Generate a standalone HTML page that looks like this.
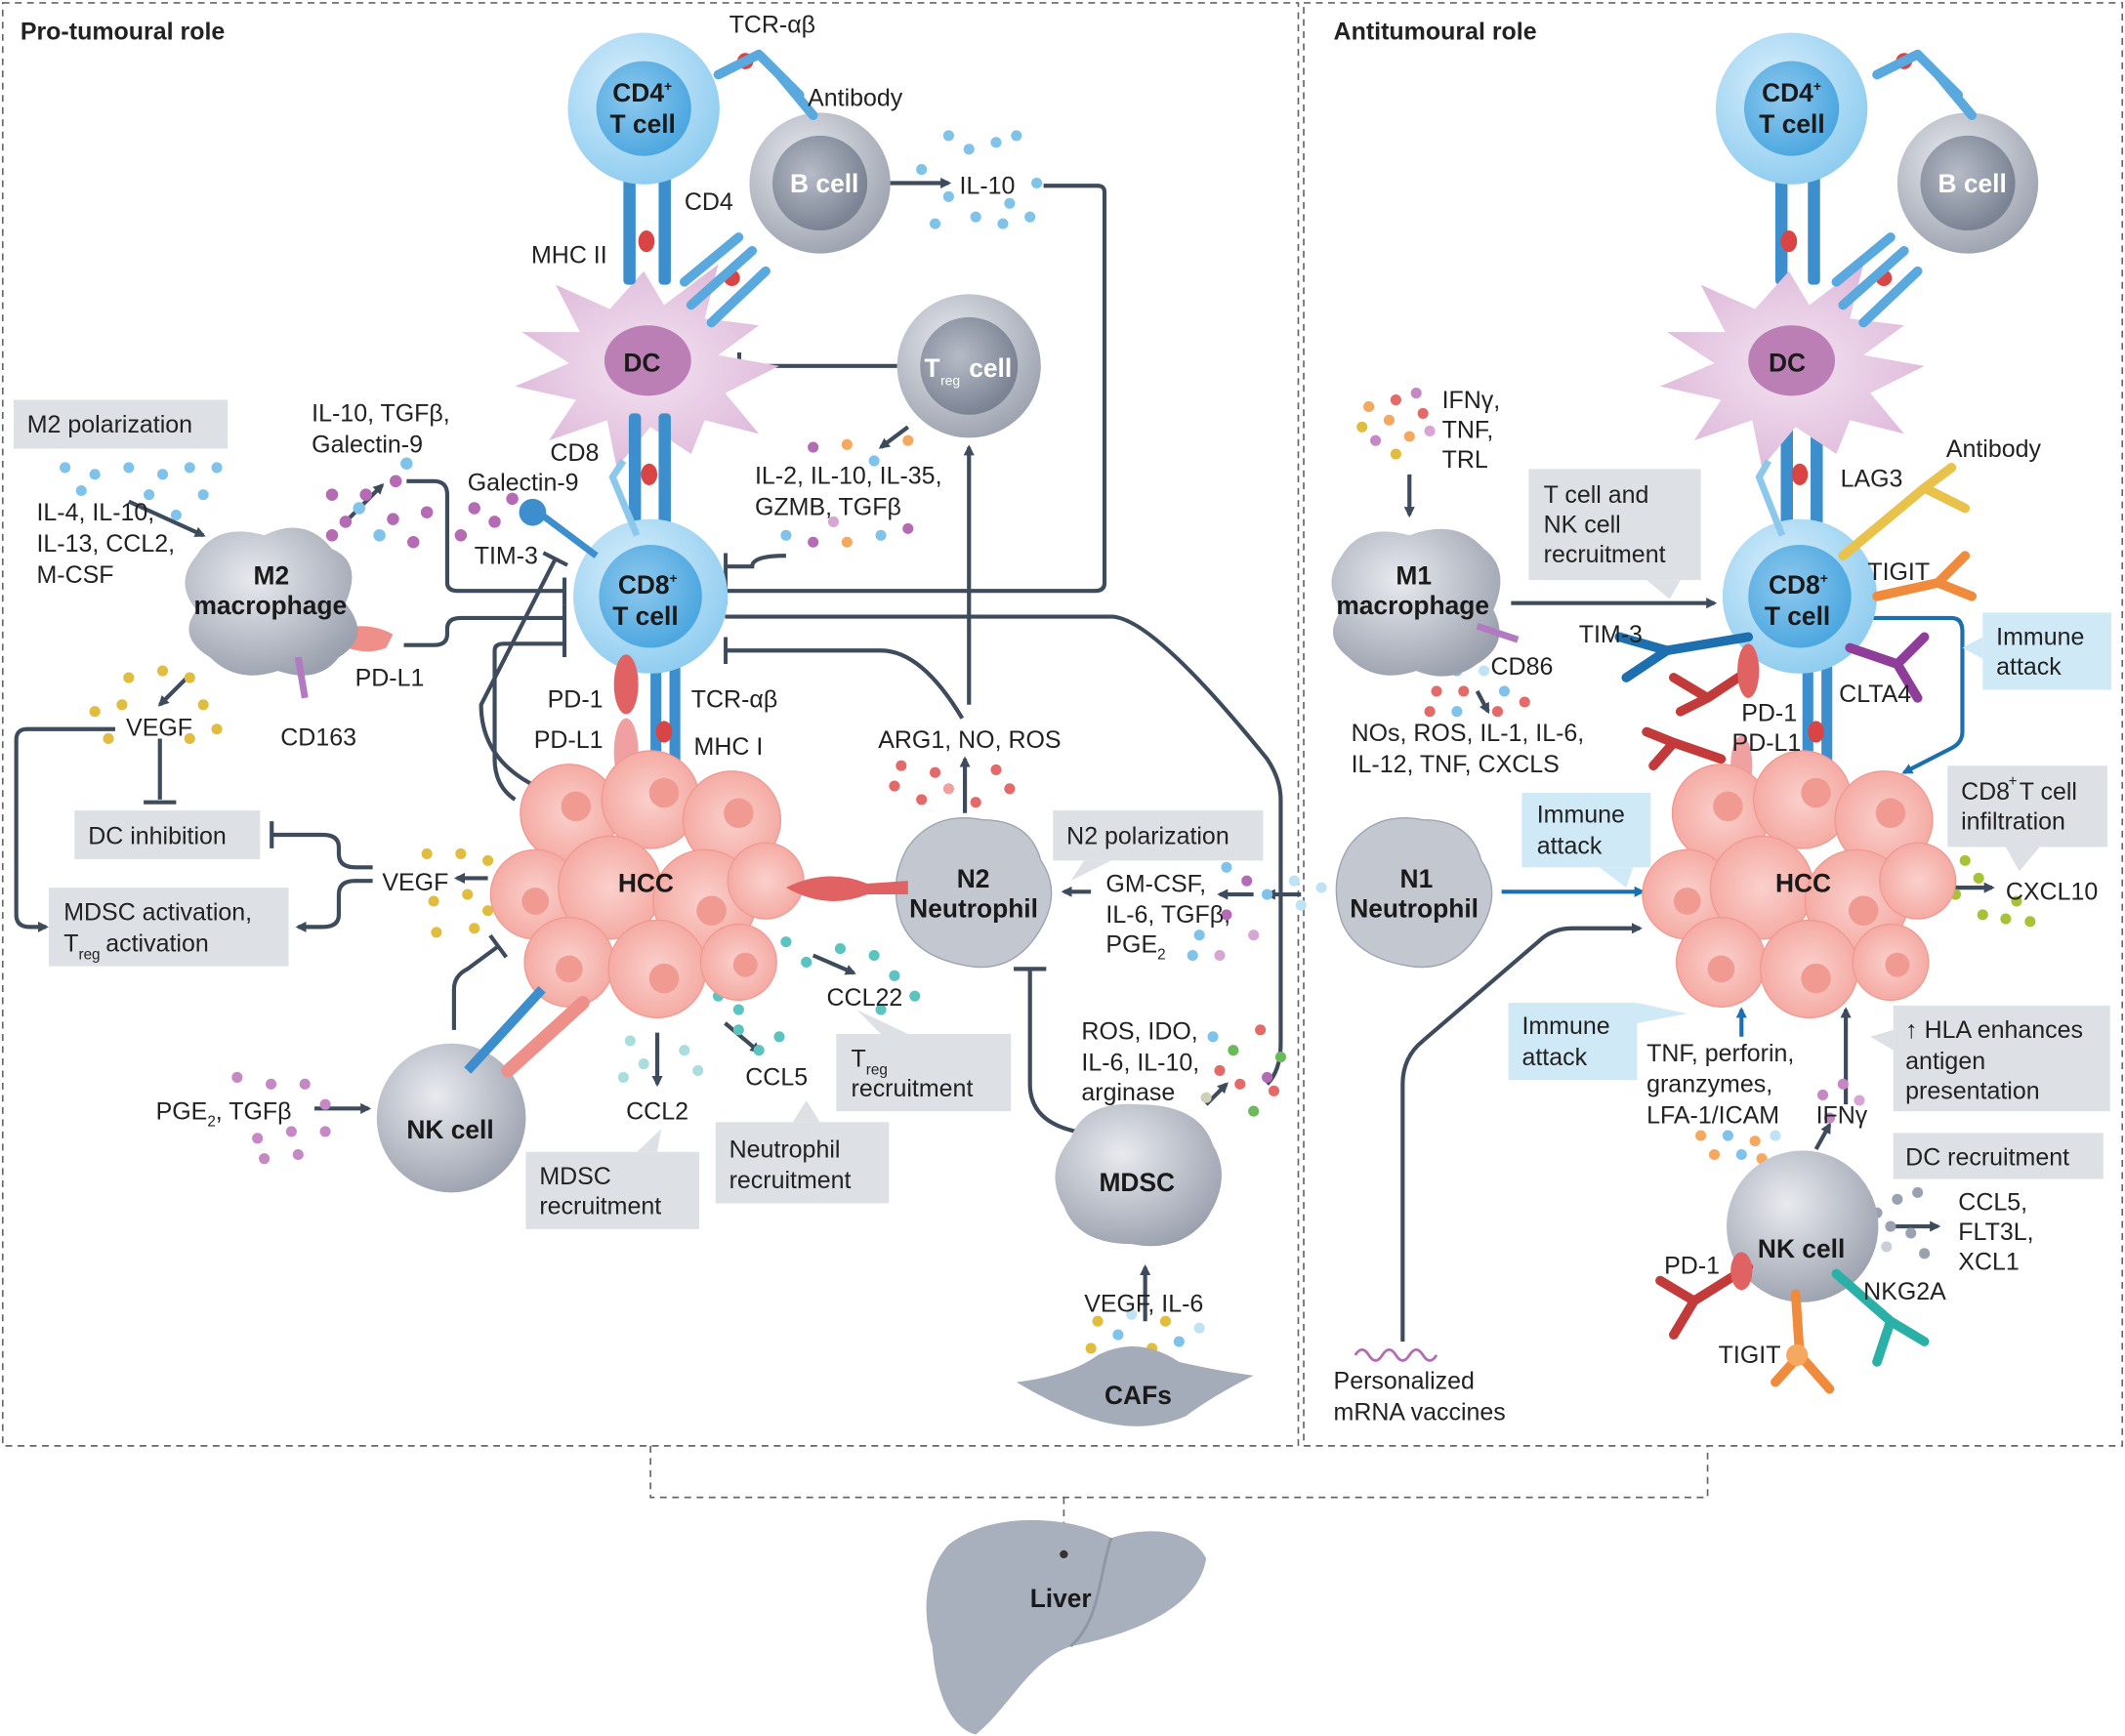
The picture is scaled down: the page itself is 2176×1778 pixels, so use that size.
<!DOCTYPE html>
<html><head><meta charset="utf-8"><style>
html,body{margin:0;padding:0;background:#fff}
svg{display:block}
text{font-family:"Liberation Sans",sans-serif;fill:#222}
.t{font-size:18px}
.b{font-weight:bold;font-size:19px;fill:#1a1a1a}
.h{font-weight:bold;font-size:18px}
.ln{fill:none;stroke:#3d4b5c;stroke-width:3}
.bl{fill:none;stroke:#1a6fb0;stroke-width:3}
.box{fill:#dde1e6}
.ib{fill:#cfe9f7}
</style></head><body>
<svg width="2176" height="1778" viewBox="0 0 1568 1281" xmlns="http://www.w3.org/2000/svg">
<defs>
<radialGradient id="tc" cx="0.4" cy="0.35" r="0.7"><stop offset="0" stop-color="#d8eefb"/><stop offset="1" stop-color="#8ccbef"/></radialGradient>
<radialGradient id="tn" cx="0.4" cy="0.4" r="0.6"><stop offset="0" stop-color="#8fc9ee"/><stop offset="1" stop-color="#4ea8e0"/></radialGradient>
<radialGradient id="gc" cx="0.4" cy="0.35" r="0.7"><stop offset="0" stop-color="#e8eaef"/><stop offset="1" stop-color="#9aa0ad"/></radialGradient>
<radialGradient id="gn" cx="0.4" cy="0.4" r="0.6"><stop offset="0" stop-color="#b6bbc6"/><stop offset="1" stop-color="#7c8494"/></radialGradient>
<radialGradient id="pk" cx="0.5" cy="0.5" r="0.6"><stop offset="0" stop-color="#fbd0cc"/><stop offset="1" stop-color="#f3a49c"/></radialGradient>
<radialGradient id="dc" cx="0.5" cy="0.5" r="0.6"><stop offset="0" stop-color="#f3e3f1"/><stop offset="1" stop-color="#dcb5d8"/></radialGradient>
<marker id="a" markerWidth="8" markerHeight="8" refX="6" refY="4" orient="auto" markerUnits="userSpaceOnUse"><path d="M0,0 L8,4 L0,8 z" fill="#3d4b5c"/></marker>
<marker id="ab" markerWidth="8" markerHeight="8" refX="6" refY="4" orient="auto" markerUnits="userSpaceOnUse"><path d="M0,0 L8,4 L0,8 z" fill="#1a6fb0"/></marker>
<marker id="t" markerWidth="4" markerHeight="20" refX="2" refY="10" orient="auto" markerUnits="userSpaceOnUse"><rect x="0" y="0" width="3" height="20" fill="#3d4b5c"/></marker>
</defs>
<rect width="1568" height="1281" fill="#fff"/>
<rect x="2" y="2" width="956" height="1065" fill="none" stroke="#666" stroke-dasharray="5,4" stroke-width="1.2"/>
<rect x="962" y="2" width="604" height="1065" fill="none" stroke="#666" stroke-dasharray="5,4" stroke-width="1.2"/>
<path d="M480,1067 V1105 H1260 V1067 M785,1105 V1145" fill="none" stroke="#666" stroke-dasharray="5,4" stroke-width="1.2"/>
<text x="15" y="29" class="h">Pro-tumoural role</text>
<text x="984" y="29" class="h">Antitumoural role</text>
<path d="M700,1140 C730,1115 790,1118 820,1135 C850,1125 880,1130 890,1150 C885,1185 840,1205 790,1215 C760,1225 745,1260 720,1280 C700,1275 690,1245 688,1215 C680,1190 682,1160 700,1140 z" fill="#a8afbd"/>
<path d="M820,1135 C810,1165 812,1195 790,1215" fill="none" stroke="#8e95a3" stroke-width="2"/>
<circle cx="785" cy="1147" r="3" fill="#333"/>
<text x="760" y="1186" class="b">Liver</text>

<g class="ln">
<path d="M655,135 H700" marker-end="url(#a)"/>
<path d="M770,137 H810 Q815,137 815,142 V430 Q815,436 808,436 H535" marker-end="url(#t)"/>
<path d="M662,270 H545" marker-end="url(#t)"/>
<path d="M715,520 V330" marker-end="url(#a)"/>
<path d="M670,315 L650,330" marker-end="url(#a)"/>
<path d="M580,410 Q555,410 555,418 H535" marker-end="url(#t)"/>
<path d="M300,355 H320 Q330,355 330,365 V430 Q330,436 338,436 H417" marker-end="url(#t)"/>
<path d="M298,476 H320 Q330,476 330,468 V464 Q330,456 340,456 H417" marker-end="url(#t)"/>
<path d="M380,590 Q365,580 365,560 V480 Q365,475 372,475 H417" marker-end="url(#t)"/>
<path d="M395,580 Q355,560 355,520 L410,412" marker-end="url(#t)"/>
<path d="M710,530 Q680,480 650,480 H535" marker-end="url(#t)"/>
<path d="M535,455 H820 Q850,455 935,560 Q945,575 945,590 V770 Q945,790 935,800" />
<path d="M712,600 V560" marker-end="url(#a)"/>
<path d="M140,498 L118,520" marker-end="url(#a)"/>
<path d="M95,370 L150,395" marker-end="url(#a)"/>
<path d="M255,385 L282,358" marker-end="url(#a)"/>
<path d="M118,545 V590 M106,592 H130"/>
<path d="M85,538 H20 Q12,538 12,546 V675 Q12,684 22,684 H34" marker-end="url(#a)"/>
<path d="M275,640 H262 Q250,640 250,630 V625 Q250,616 238,616 H200" marker-end="url(#t)"/>
<path d="M275,650 H262 Q250,650 250,660 V675 Q250,684 238,684 H220" marker-end="url(#a)"/>
<path d="M360,648 H337" marker-end="url(#a)"/>
<path d="M335,760 V730 Q335,720 345,715 L368,698" marker-end="url(#t)"/>
<path d="M232,818 H272" marker-end="url(#a)"/>
<path d="M485,762 V800" marker-end="url(#a)"/>
<path d="M535,755 L560,776" marker-end="url(#a)"/>
<path d="M600,705 L630,718" marker-end="url(#a)"/>
<path d="M805,658 H785" marker-end="url(#a)"/>
<path d="M925,660 H900" marker-end="url(#a)"/>
<path d="M960,660 H935" marker-end="url(#a)"/>
<path d="M800,836 Q760,830 760,800 V715"/>
<path d="M748,715 H772"/>
<path d="M845,975 V935" marker-end="url(#a)"/>
<path d="M890,815 L905,800" marker-end="url(#a)"/>
</g>
<g class="ln">
<path d="M1040,350 V380" marker-end="url(#a)"/>
<path d="M1115,445 H1265" marker-end="url(#a)"/>
<path d="M1090,510 L1098,525" marker-end="url(#a)"/>
<path d="M1035,990 V800 Q1035,780 1050,768 L1135,695 Q1145,685 1160,685 H1210" marker-end="url(#a)"/>
<path d="M1362,815 V745" marker-end="url(#a)"/>
<path d="M1340,848 L1350,830" marker-end="url(#a)"/>
<path d="M1440,655 H1470" marker-end="url(#a)"/>
<path d="M1398,905 H1430" marker-end="url(#a)"/>
</g>
<g class="bl">
<path d="M1108,658 H1212" marker-end="url(#ab)"/>
<path d="M1285,765 V745" marker-end="url(#ab)"/>
<path d="M1380,456 H1440 Q1448,456 1448,466 V540 Q1448,548 1440,552 L1405,570" marker-end="url(#ab)"/>
</g>

<g>
<g fill="#7fc3ea"><circle cx="700" cy="100" r="4"/><circle cx="715" cy="110" r="4"/><circle cx="735" cy="105" r="4"/><circle cx="750" cy="100" r="4"/><circle cx="680" cy="125" r="4"/><circle cx="700" cy="145" r="4"/><circle cx="720" cy="160" r="4"/><circle cx="745" cy="150" r="4"/><circle cx="765" cy="135" r="4"/><circle cx="740" cy="165" r="4"/><circle cx="690" cy="165" r="4"/><circle cx="760" cy="160" r="4"/></g>
<g fill="#7fc3ea"><circle cx="48" cy="345" r="4"/><circle cx="70" cy="350" r="4"/><circle cx="95" cy="345" r="4"/><circle cx="120" cy="350" r="4"/><circle cx="140" cy="345" r="4"/><circle cx="160" cy="345" r="4"/><circle cx="60" cy="362" r="4"/><circle cx="110" cy="365" r="4"/><circle cx="150" cy="365" r="4"/><circle cx="130" cy="380" r="4"/></g>
<g fill="#b56bb4"><circle cx="245" cy="365" r="4.5"/><circle cx="270" cy="365" r="4.5"/><circle cx="292" cy="355" r="4.5"/><circle cx="255" cy="385" r="4.5"/><circle cx="290" cy="383" r="4.5"/><circle cx="315" cy="378" r="4.5"/><circle cx="305" cy="400" r="4.5"/><circle cx="350" cy="375" r="4.5"/><circle cx="365" cy="385" r="4.5"/><circle cx="378" cy="368" r="4.5"/><circle cx="340" cy="395" r="4.5"/><circle cx="245" cy="395" r="4.5"/></g>
<g fill="#7fc3ea"><circle cx="265" cy="375" r="4.5"/><circle cx="280" cy="395" r="4.5"/><circle cx="300" cy="342" r="4.5"/></g>
<g><circle cx="600" cy="330" r="4" fill="#b56bb4"/><circle cx="625" cy="328" r="4" fill="#f5a860"/><circle cx="645" cy="340" r="4" fill="#7fc3ea"/><circle cx="670" cy="325" r="4" fill="#f5a860"/><circle cx="580" cy="395" r="4" fill="#7fc3ea"/><circle cx="600" cy="400" r="4" fill="#b56bb4"/><circle cx="625" cy="400" r="4" fill="#f5a860"/><circle cx="650" cy="395" r="4" fill="#7fc3ea"/><circle cx="670" cy="390" r="4" fill="#b56bb4"/><circle cx="615" cy="385" r="4" fill="#d7a6d4"/></g>
<g fill="#e0bd3e"><circle cx="95" cy="500" r="4"/><circle cx="120" cy="495" r="4"/><circle cx="140" cy="500" r="4"/><circle cx="70" cy="525" r="4"/><circle cx="90" cy="520" r="4"/><circle cx="150" cy="520" r="4"/><circle cx="160" cy="538" r="4"/><circle cx="80" cy="545" r="4"/><circle cx="140" cy="545" r="4"/></g>
<g fill="#e0bd3e"><circle cx="315" cy="630" r="4"/><circle cx="340" cy="630" r="4"/><circle cx="360" cy="635" r="4"/><circle cx="320" cy="665" r="4"/><circle cx="345" cy="660" r="4"/><circle cx="360" cy="672" r="4"/><circle cx="322" cy="688" r="4"/><circle cx="350" cy="685" r="4"/><circle cx="375" cy="650" r="4"/></g>
<g fill="#e46a6a"><circle cx="665" cy="565" r="4"/><circle cx="690" cy="570" r="4"/><circle cx="735" cy="568" r="4"/><circle cx="660" cy="580" r="4"/><circle cx="680" cy="590" r="4"/><circle cx="745" cy="582" r="4"/><circle cx="720" cy="592" r="4"/><circle cx="700" cy="582" r="4" fill="#f0a0a0"/></g>
<g fill="#5bc3c0"><circle cx="580" cy="695" r="4"/><circle cx="595" cy="710" r="4"/><circle cx="620" cy="700" r="4"/><circle cx="645" cy="705" r="4"/><circle cx="660" cy="720" r="4"/><circle cx="675" cy="735" r="4"/><circle cx="650" cy="745" r="4"/><circle cx="530" cy="735" r="4"/><circle cx="545" cy="745" r="4"/><circle cx="545" cy="760" r="4"/><circle cx="560" cy="775" r="4"/><circle cx="575" cy="765" r="4"/><circle cx="465" cy="768" r="4" fill="#a9dedc"/><circle cx="475" cy="785" r="4" fill="#a9dedc"/><circle cx="505" cy="775" r="4" fill="#a9dedc"/><circle cx="515" cy="790" r="4" fill="#a9dedc"/><circle cx="460" cy="795" r="4" fill="#a9dedc"/></g>
<g fill="#c688c5"><circle cx="175" cy="795" r="4"/><circle cx="200" cy="800" r="4"/><circle cx="225" cy="800" r="4"/><circle cx="240" cy="815" r="4"/><circle cx="190" cy="840" r="4"/><circle cx="215" cy="835" r="4"/><circle cx="240" cy="835" r="4"/><circle cx="195" cy="855" r="4"/><circle cx="220" cy="852" r="4"/></g>
<g><circle cx="905" cy="640" r="4" fill="#7fc3ea"/><circle cx="920" cy="650" r="4" fill="#b56bb4"/><circle cx="935" cy="660" r="4" fill="#7fc3ea"/><circle cx="905" cy="675" r="4" fill="#b56bb4"/><circle cx="925" cy="690" r="4" fill="#d7a6d4"/><circle cx="885" cy="690" r="4" fill="#7fc3ea"/><circle cx="880" cy="705" r="4" fill="#7fc3ea"/><circle cx="900" cy="705" r="4" fill="#d7a6d4"/><circle cx="955" cy="650" r="4" fill="#bfe2f5"/><circle cx="975" cy="655" r="4" fill="#bfe2f5"/><circle cx="960" cy="668" r="4" fill="#bfe2f5"/></g>
<g><circle cx="895" cy="765" r="4" fill="#7fc3ea"/><circle cx="910" cy="775" r="4" fill="#6aba5a"/><circle cx="930" cy="760" r="4" fill="#e46a6a"/><circle cx="945" cy="780" r="4" fill="#6aba5a"/><circle cx="900" cy="790" r="4" fill="#e46a6a"/><circle cx="915" cy="800" r="4" fill="#e46a6a"/><circle cx="935" cy="795" r="4" fill="#b56bb4"/><circle cx="890" cy="810" r="4" fill="#d0d0b8"/><circle cx="925" cy="820" r="4" fill="#6aba5a"/><circle cx="940" cy="805" r="4" fill="#e46a6a"/></g>
<g><circle cx="810" cy="975" r="4" fill="#e0bd3e"/><circle cx="825" cy="985" r="4" fill="#7fc3ea"/><circle cx="805" cy="995" r="4" fill="#e0bd3e"/><circle cx="835" cy="970" r="4" fill="#bfe2f5"/><circle cx="860" cy="975" r="4" fill="#e0bd3e"/><circle cx="870" cy="990" r="4" fill="#7fc3ea"/><circle cx="850" cy="995" r="4" fill="#e0bd3e"/><circle cx="885" cy="980" r="4" fill="#bfe2f5"/><circle cx="825" cy="1000" r="4" fill="#e0bd3e"/></g>
<g><circle cx="1010" cy="300" r="4" fill="#f5a860"/><circle cx="1030" cy="295" r="4" fill="#e46a6a"/><circle cx="1045" cy="290" r="4" fill="#c688c5"/><circle cx="1005" cy="315" r="4" fill="#e0bd3e"/><circle cx="1025" cy="310" r="4" fill="#f5a860"/><circle cx="1050" cy="305" r="4" fill="#e46a6a"/><circle cx="1015" cy="325" r="4" fill="#c688c5"/><circle cx="1040" cy="322" r="4" fill="#f5a860"/><circle cx="1055" cy="318" r="4" fill="#d7a6d4"/><circle cx="1030" cy="335" r="4" fill="#e0bd3e"/></g>
<g><circle cx="1075" cy="495" r="4" fill="#7fc3ea"/><circle cx="1095" cy="495" r="4" fill="#bfe2f5"/><circle cx="1060" cy="510" r="4" fill="#e46a6a"/><circle cx="1080" cy="510" r="4" fill="#e46a6a"/><circle cx="1110" cy="510" r="4" fill="#7fc3ea"/><circle cx="1055" cy="525" r="4" fill="#e46a6a"/><circle cx="1075" cy="525" r="4" fill="#7fc3ea"/><circle cx="1105" cy="525" r="4" fill="#e46a6a"/><circle cx="1125" cy="518" r="4" fill="#e46a6a"/></g>
<g fill="#a8c238"><circle cx="1437" cy="640" r="4"/><circle cx="1450" cy="635" r="4"/><circle cx="1460" cy="648" r="4"/><circle cx="1443" cy="660" r="4"/><circle cx="1463" cy="675" r="4"/><circle cx="1480" cy="678" r="4"/><circle cx="1498" cy="680" r="4"/><circle cx="1488" cy="665" r="4"/></g>
<g><circle cx="1255" cy="838" r="4" fill="#f5a860"/><circle cx="1275" cy="838" r="4" fill="#7fc3ea"/><circle cx="1295" cy="842" r="4" fill="#f5a860"/><circle cx="1265" cy="852" r="4" fill="#f5a860"/><circle cx="1285" cy="852" r="4" fill="#7fc3ea"/><circle cx="1300" cy="855" r="4" fill="#f5a860"/><circle cx="1310" cy="838" r="4" fill="#bfe2f5"/><circle cx="1345" cy="808" r="4" fill="#c688c5"/><circle cx="1360" cy="800" r="4" fill="#c688c5"/><circle cx="1372" cy="812" r="4" fill="#d7a6d4"/><circle cx="1350" cy="825" r="4" fill="#c688c5"/></g>
<g fill="#9aa2b2"><circle cx="1385" cy="895" r="4"/><circle cx="1400" cy="885" r="4"/><circle cx="1415" cy="880" r="4"/><circle cx="1395" cy="905" r="4"/><circle cx="1410" cy="910" r="4"/><circle cx="1420" cy="925" r="4"/><circle cx="1392" cy="920" r="4" fill="#c9ced8"/></g>
<path d="M1000,1000 q5,-8 10,0 t10,0 t10,0 t10,0 t10,0 t10,0" fill="none" stroke="#b56bb4" stroke-width="2"/>

<rect class="box" x="10" y="295" width="158" height="36"/><text class="t" x="20" y="319">M2 polarization</text>
<rect class="box" x="55" y="598" width="137" height="36"/><text class="t" x="65" y="623">DC inhibition</text>
<rect class="box" x="36" y="655" width="177" height="58"/><text class="t" x="47" y="679">MDSC activation,</text><text class="t" x="47" y="702">T</text><text x="58" y="708" style="font-size:11px">reg</text><text class="t" x="78" y="702">activation</text>
<rect class="box" x="388" y="850" width="128" height="57"/><text class="t" x="398" y="874">MDSC</text><text class="t" x="398" y="896">recruitment</text>
<path class="box" d="M470,850 L488,833 L485,850z"/>
<rect class="box" x="528" y="828" width="128" height="60"/><text class="t" x="538" y="854">Neutrophil</text><text class="t" x="538" y="877">recruitment</text>
<path class="box" d="M585,828 L595,812 L605,828z"/>
<rect class="box" x="617" y="763" width="129" height="57"/><text class="t" x="628" y="787">T</text><text x="639" y="793" style="font-size:11px">reg</text><text class="t" x="628" y="809">recruitment</text>
<path class="box" d="M650,763 L632,745 L670,763z"/>
<rect class="box" x="777" y="598" width="155" height="37"/><text class="t" x="787" y="623">N2 polarization</text>
<path class="box" d="M800,635 L790,650 L820,635z"/>
<rect class="box" x="1128" y="346" width="127" height="82"/><text class="t" x="1139" y="371">T cell and</text><text class="t" x="1139" y="393">NK cell</text><text class="t" x="1139" y="415">recruitment</text>
<path class="box" d="M1215,428 L1232,442 L1240,428z"/>
<rect class="box" x="1437" y="565" width="118" height="60"/><text class="t" x="1447" y="590">CD8</text><text x="1482" y="580" style="font-size:11px">+</text><text class="t" x="1490" y="590">T cell</text><text class="t" x="1447" y="612">infiltration</text>
<path class="box" d="M1480,625 L1490,643 L1505,625z"/>
<rect class="box" x="1397" y="742" width="160" height="78"/><text class="t" x="1406" y="766">↑ HLA enhances</text><text class="t" x="1406" y="789">antigen</text><text class="t" x="1406" y="811">presentation</text>
<path class="box" d="M1397,760 L1380,765 L1397,775z"/>
<rect class="box" x="1397" y="836" width="155" height="34"/><text class="t" x="1406" y="860">DC recruitment</text>
<rect class="ib" x="1463" y="452" width="95" height="57"/><text class="t" x="1473" y="476">Immune</text><text class="t" x="1473" y="498">attack</text>
<path class="ib" d="M1463,470 L1448,478 L1463,486z"/>
<rect class="ib" x="1123" y="585" width="95" height="55"/><text class="t" x="1134" y="607">Immune</text><text class="t" x="1134" y="630">attack</text>
<path class="ib" d="M1180,640 L1200,655 L1205,640z"/>
<rect class="ib" x="1113" y="740" width="95" height="57"/><text class="t" x="1123" y="763">Immune</text><text class="t" x="1123" y="786">attack</text>
<path class="ib" d="M1208,740 L1245,748 L1208,755z"/>

<path d="M475,200 L490,225 L530,195 L520,235 L560,240 L530,262 L575,270 L535,290 L560,320 L520,310 L510,335 L480,315 L455,345 L448,310 L405,325 L425,295 L380,285 L420,268 L385,245 L428,245 L410,210 L450,228 z" fill="url(#dc)"/>
<ellipse cx="478" cy="266" rx="32" ry="26" fill="#bb7fb6"/><text class="b" x="460" y="274">DC</text>
<g fill="#3c8fcc"><rect x="460" y="125" width="9" height="85" rx="3"/><rect x="486" y="125" width="9" height="85" rx="3"/><rect x="464" y="305" width="9" height="90" rx="3"/><rect x="486" y="305" width="9" height="90" rx="3"/><rect x="480" y="485" width="8" height="95" rx="3"/><rect x="494" y="485" width="8" height="95" rx="3"/>
<rect x="1310" y="125" width="9" height="85" rx="3"/><rect x="1334" y="125" width="9" height="85" rx="3"/><rect x="1314" y="305" width="9" height="90" rx="3"/><rect x="1336" y="305" width="9" height="90" rx="3"/><rect x="1330" y="485" width="8" height="95" rx="3"/><rect x="1344" y="485" width="8" height="95" rx="3"/></g>
<g fill="#d94545"><ellipse cx="477" cy="178" rx="6" ry="8"/><ellipse cx="479" cy="350" rx="6" ry="8"/><ellipse cx="490" cy="540" rx="6" ry="8"/><ellipse cx="1320" cy="178" rx="6" ry="8"/><ellipse cx="1328" cy="350" rx="6" ry="8"/><ellipse cx="1340" cy="540" rx="6" ry="8"/><circle cx="540" cy="205" r="6"/><circle cx="550" cy="45" r="6"/><circle cx="1390" cy="205" r="6"/><circle cx="1405" cy="45" r="6"/></g>
<circle cx="475" cy="80" r="56" fill="url(#tc)"/><circle cx="475" cy="80" r="35" fill="url(#tn)"/>
<text class="b" x="452" y="75">CD4<tspan font-size="10" dy="-8">+</tspan></text><text class="b" x="450" y="98">T cell</text>
<circle cx="605" cy="135" r="52" fill="url(#gc)"/><circle cx="605" cy="135" r="35" fill="url(#gn)"/><text class="b" x="583" y="142" style="fill:#fff">B cell</text>
<g stroke="#5aa9de" stroke-width="7" fill="none" stroke-linecap="round"><path d="M510,225 L555,185 M505,208 L545,175 M525,238 L565,200"/><path d="M530,55 L560,40 M560,40 L590,70 M575,55 L600,85"/></g>
<circle cx="715" cy="270" r="53" fill="url(#gc)"/><circle cx="715" cy="270" r="36" fill="url(#gn)"/><text class="b" x="682" y="278" style="fill:#fff">T</text><text x="694" y="284" style="font-size:10px;fill:#fff">reg</text><text class="b" x="715" y="278" style="fill:#fff">cell</text>
<circle cx="480" cy="440" r="57" fill="url(#tc)"/><circle cx="480" cy="440" r="38" fill="url(#tn)"/>
<text class="b" x="456" y="438">CD8<tspan font-size="10" dy="-8">+</tspan></text><text class="b" x="452" y="461">T cell</text>
<path d="M400,380 L440,410" stroke="#3c8fcc" stroke-width="5"/><circle cx="393" cy="378" r="10" fill="#3c8fcc"/>
<path d="M460,340 L452,352 L470,395" stroke="#8cc7ec" stroke-width="5" fill="none"/>
<ellipse cx="462" cy="505" rx="9" ry="22" fill="#e06262"/><ellipse cx="462" cy="555" rx="9" ry="25" fill="#f0a0a0"/>
<path d="M240,470 Q265,455 290,468 L285,478 Q265,486 240,470z" fill="#ee8f8a"/>
<path d="M145,410 Q160,385 195,395 Q225,380 245,405 Q268,415 255,445 Q275,470 250,485 Q235,505 205,495 Q175,505 155,485 Q130,470 145,450 Q128,430 145,410z" fill="url(#gc)"/>
<text class="b" x="187" y="431">M2</text><text class="b" x="143" y="453">macrophage</text>
<path d="M220,485 L225,515" stroke="#b27ac1" stroke-width="5"/>
<g fill="url(#pk)" stroke="#f19990" stroke-width="1">
<circle cx="420" cy="600" r="36"/><circle cx="480" cy="590" r="36"/><circle cx="540" cy="605" r="36"/><circle cx="395" cy="660" r="33"/><circle cx="450" cy="655" r="38"/><circle cx="520" cy="665" r="38"/><circle cx="565" cy="650" r="28"/><circle cx="420" cy="710" r="33"/><circle cx="485" cy="715" r="36"/><circle cx="545" cy="710" r="28"/></g>
<g fill="#f09a92"><circle cx="425" cy="595" r="11"/><circle cx="490" cy="585" r="11"/><circle cx="545" cy="600" r="11"/><circle cx="395" cy="665" r="10"/><circle cx="525" cy="672" r="11"/><circle cx="420" cy="715" r="10"/><circle cx="490" cy="722" r="11"/><circle cx="550" cy="712" r="9"/></g>
<text class="b" x="456" y="658">HCC</text>
<path d="M670,625 Q690,598 725,605 Q760,605 768,635 Q785,660 765,690 Q745,720 710,712 Q675,705 665,680 Q655,650 670,625z" fill="#c3c7d0" stroke="#9ea4b0"/>
<text class="b" x="706" y="655">N2</text><text class="b" x="671" y="677">Neutrophil</text>
<path d="M580,655 Q610,640 640,652 L670,650 L670,660 L640,660 Q610,672 580,655z" fill="#e06262"/>
<circle cx="333" cy="825" r="55" fill="url(#gc)"/><text class="b" x="300" y="840">NK cell</text>
<path d="M345,790 L400,730" stroke="#3c8fcc" stroke-width="7"/><path d="M375,790 L430,740" stroke="#ee8f8a" stroke-width="10" stroke-linecap="round"/>
<path d="M790,840 Q800,812 840,815 Q885,815 895,845 Q910,870 890,900 Q870,925 835,918 Q795,918 785,890 Q770,865 790,840z" fill="url(#gc)"/>
<text class="b" x="811" y="879">MDSC</text>
<path d="M750,1020 Q790,1015 810,1000 Q840,985 870,1005 Q900,1012 925,1015 Q895,1030 875,1045 Q840,1060 800,1045 Q775,1035 750,1020z" fill="#a4abb9"/>
<text class="b" x="815" y="1036">CAFs</text>

<path d="M1320,200 L1335,225 L1375,195 L1365,235 L1405,240 L1375,262 L1420,270 L1380,290 L1405,320 L1365,310 L1355,335 L1325,315 L1300,345 L1293,310 L1250,325 L1270,295 L1225,285 L1265,268 L1230,245 L1273,245 L1255,210 L1295,228 z" fill="url(#dc)"/>
<ellipse cx="1322" cy="266" rx="32" ry="26" fill="#bb7fb6"/><text class="b" x="1305" y="274">DC</text>
<circle cx="1322" cy="80" r="56" fill="url(#tc)"/><circle cx="1322" cy="80" r="35" fill="url(#tn)"/>
<text class="b" x="1300" y="75">CD4<tspan font-size="10" dy="-8">+</tspan></text><text class="b" x="1298" y="98">T cell</text>
<circle cx="1452" cy="135" r="52" fill="url(#gc)"/><circle cx="1452" cy="135" r="35" fill="url(#gn)"/><text class="b" x="1430" y="142" style="fill:#fff">B cell</text>
<g stroke="#5aa9de" stroke-width="7" fill="none" stroke-linecap="round"><path d="M1360,225 L1405,185 M1355,208 L1395,175 M1375,238 L1415,200"/><path d="M1385,55 L1415,40 M1415,40 L1445,70 M1430,55 L1455,85"/></g>
<circle cx="1328" cy="440" r="57" fill="url(#tc)"/><circle cx="1328" cy="440" r="38" fill="url(#tn)"/>
<text class="b" x="1305" y="438">CD8<tspan font-size="10" dy="-8">+</tspan></text><text class="b" x="1302" y="461">T cell</text>
<g stroke-width="7" fill="none" stroke-linecap="round">
<path d="M1360,410 L1420,360 M1420,360 L1440,345 M1420,360 L1450,375" stroke="#e8c24a"/>
<path d="M1385,440 L1430,430 M1430,430 L1450,410 M1430,430 L1455,440" stroke="#f08a3c"/>
<path d="M1290,470 L1230,480 M1230,480 L1195,470 M1230,480 L1200,500" stroke="#1e6fb0"/>
<path d="M1365,478 L1400,490 M1400,490 L1420,470 M1400,490 L1415,515" stroke="#8e3d99"/>
<path d="M1290,495 L1260,515 M1260,515 L1235,500 M1260,515 L1240,525" stroke="#c23a3a"/>
<path d="M1270,560 L1235,548 M1235,548 L1215,540 M1235,548 L1220,565" stroke="#c23a3a"/>
</g>
<ellipse cx="1290" cy="495" rx="8" ry="20" fill="#e06262"/><ellipse cx="1285" cy="565" rx="8" ry="22" fill="#f0a0a0"/>
<path d="M1305,340 L1298,352 L1315,395" stroke="#8cc7ec" stroke-width="5" fill="none"/>
<path d="M990,410 Q1005,385 1040,395 Q1075,382 1095,405 Q1115,420 1102,450 Q1115,475 1090,490 Q1070,505 1045,495 Q1015,505 995,485 Q975,470 990,450 Q975,430 990,410z" fill="url(#gc)"/>
<text class="b" x="1030" y="431">M1</text><text class="b" x="986" y="453">macrophage</text>
<path d="M1090,462 L1120,472" stroke="#b27ac1" stroke-width="5"/>
<g fill="url(#pk)" stroke="#f19990" stroke-width="1">
<circle cx="1270" cy="600" r="36"/><circle cx="1330" cy="590" r="36"/><circle cx="1390" cy="605" r="36"/><circle cx="1245" cy="660" r="33"/><circle cx="1300" cy="655" r="38"/><circle cx="1370" cy="665" r="38"/><circle cx="1415" cy="650" r="28"/><circle cx="1270" cy="710" r="33"/><circle cx="1335" cy="715" r="36"/><circle cx="1395" cy="710" r="28"/></g>
<g fill="#f09a92"><circle cx="1275" cy="595" r="11"/><circle cx="1340" cy="585" r="11"/><circle cx="1395" cy="600" r="11"/><circle cx="1245" cy="665" r="10"/><circle cx="1375" cy="672" r="11"/><circle cx="1270" cy="715" r="10"/><circle cx="1340" cy="722" r="11"/><circle cx="1400" cy="712" r="9"/></g>
<text class="b" x="1310" y="658">HCC</text>
<path d="M995,625 Q1015,598 1050,605 Q1085,605 1093,635 Q1110,660 1090,690 Q1070,720 1035,712 Q1000,705 990,680 Q980,650 995,625z" fill="#c3c7d0" stroke="#9ea4b0"/>
<text class="b" x="1033" y="655">N1</text><text class="b" x="996" y="677">Neutrophil</text>
<circle cx="1330" cy="905" r="56" fill="url(#gc)"/><text class="b" x="1297" y="928">NK cell</text>
<g stroke-width="7" fill="none" stroke-linecap="round">
<path d="M1290,935 L1250,960 M1250,960 L1225,945 M1250,960 L1235,985" stroke="#c23a3a"/>
<path d="M1325,955 L1328,1000 M1328,1000 L1310,1020 M1328,1000 L1350,1025" stroke="#f08a3c"/>
<path d="M1355,940 L1395,975 M1395,975 L1385,1005 M1395,975 L1420,990" stroke="#2bb0a8"/>
</g>
<ellipse cx="1285" cy="938" rx="8" ry="14" fill="#e06262"/><circle cx="1326" cy="1000" r="8" fill="#f5a860"/>

<g class="t">
<text x="538" y="24">TCR-αβ</text><text x="596" y="78">Antibody</text><text x="505" y="155">CD4</text><text x="392" y="194">MHC II</text><text x="708" y="143">IL-10</text>
<text x="230" y="311">IL-10, TGFβ,</text><text x="230" y="334">Galectin-9</text>
<text x="345" y="362">Galectin-9</text><text x="406" y="340">CD8</text><text x="350" y="416">TIM-3</text>
<text x="27" y="384">IL-4, IL-10,</text><text x="27" y="407">IL-13, CCL2,</text><text x="27" y="430">M-CSF</text>
<text x="557" y="357">IL-2, IL-10, IL-35,</text><text x="557" y="380">GZMB, TGFβ</text>
<text x="262" y="506">PD-L1</text><text x="207" y="550">CD163</text><text x="93" y="543">VEGF</text>
<text x="404" y="522">PD-1</text><text x="394" y="552">PD-L1</text><text x="510" y="522">TCR-αβ</text><text x="512" y="557">MHC I</text>
<text x="648" y="552">ARG1, NO, ROS</text><text x="282" y="657">VEGF</text>
<text x="816" y="658">GM-CSF,</text><text x="816" y="681">IL-6, TGFβ,</text><text x="816" y="703">PGE<tspan font-size="11" dy="5">2</tspan></text>
<text x="610" y="742">CCL22</text><text x="550" y="801">CCL5</text><text x="462" y="826">CCL2</text>
<text x="115" y="826">PGE<tspan font-size="11" dy="5">2</tspan><tspan dy="-5">, TGFβ</tspan></text>
<text x="798" y="767">ROS, IDO,</text><text x="798" y="790">IL-6, IL-10,</text><text x="798" y="812">arginase</text>
<text x="800" y="968">VEGF, IL-6</text>
<text x="1064" y="301">IFNγ,</text><text x="1064" y="323">TNF,</text><text x="1064" y="345">TRL</text>
<text x="1436" y="337">Antibody</text><text x="1358" y="359">LAG3</text><text x="1378" y="428">TIGIT</text>
<text x="1165" y="474">TIM-3</text><text x="1100" y="498">CD86</text><text x="1357" y="518">CLTA4</text>
<text x="1285" y="532">PD-1</text><text x="1278" y="554">PD-L1</text>
<text x="997" y="547">NOs, ROS, IL-1, IL-6,</text><text x="997" y="570">IL-12, TNF, CXCLS</text>
<text x="1480" y="664">CXCL10</text>
<text x="1215" y="783">TNF, perforin,</text><text x="1215" y="806">granzymes,</text><text x="1215" y="829">LFA-1/ICAM</text><text x="1340" y="829">IFNγ</text>
<text x="1445" y="893">CCL5,</text><text x="1445" y="915">FLT3L,</text><text x="1445" y="937">XCL1</text>
<text x="1228" y="940">PD-1</text><text x="1375" y="959">NKG2A</text><text x="1268" y="1006">TIGIT</text>
<text x="984" y="1025">Personalized</text><text x="984" y="1048">mRNA vaccines</text>
</g>
</svg>
</body></html>
